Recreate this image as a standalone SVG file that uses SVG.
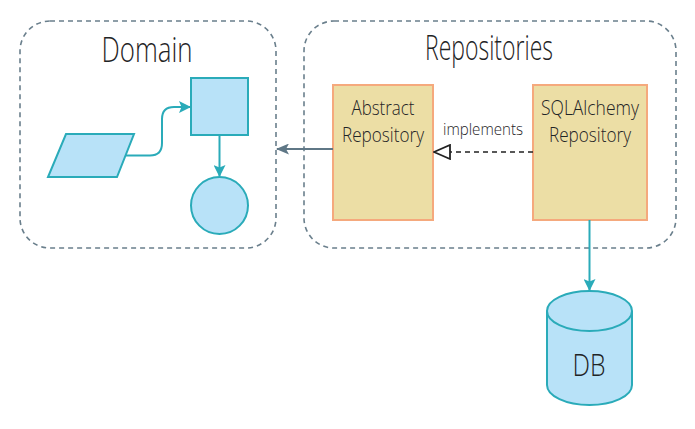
<svg xmlns="http://www.w3.org/2000/svg" width="695" height="429" viewBox="0 0 695 429">
<defs>
<style>
.cont{fill:none;stroke:#6a7f8c;stroke-width:1.6;stroke-dasharray:5,4}
.blue{fill:#b8e2f8;stroke:#2aabb9;stroke-width:2}
.tan{fill:#ecdea5;stroke:#f5a97d;stroke-width:2}
.t{font-family:"Open Sans","Liberation Sans",sans-serif;font-weight:300;fill:#1f2426;text-anchor:middle}
.teal{fill:none;stroke:#2aabb9;stroke-width:2}
</style>
<marker id="ah" markerWidth="12" markerHeight="12" refX="11" refY="6" orient="auto" markerUnits="userSpaceOnUse" viewBox="0 0 12 12">
<path d="M0,0 L12,6 L0,12 L2.5,6 Z" fill="#2aabb9"/>
</marker>
<marker id="ag" markerWidth="13" markerHeight="11" refX="12" refY="5.5" orient="auto" markerUnits="userSpaceOnUse" viewBox="0 0 13 11">
<path d="M0,0 L13,5.5 L0,11 L3,5.5 Z" fill="#5f7786"/>
</marker>
<marker id="tri" markerWidth="18" markerHeight="16" refX="17" refY="8" orient="auto" markerUnits="userSpaceOnUse" viewBox="0 0 18 16">
<path d="M1,1 L17,8 L1,15 Z" fill="#fff" stroke="#222" stroke-width="1.8"/>
</marker>
</defs>
<rect width="695" height="429" fill="#fff"/>
<g id="domain">
<rect class="cont" x="20" y="21" width="256" height="227" rx="30"/>
<text class="t" x="147" y="62" font-size="34" textLength="91" lengthAdjust="spacingAndGlyphs">Domain</text>
</g>
<g id="repositories">
<rect class="cont" x="304" y="21" width="372" height="227" rx="30"/>
<text class="t" x="489" y="60" font-size="34" textLength="128" lengthAdjust="spacingAndGlyphs">Repositories</text>
</g>
<g id="parallelogram">
<polygon class="blue" points="66,134 134,134 117,177 48,177"/>
</g>
<g id="square">
<rect class="blue" x="191" y="78" width="57" height="57"/>
</g>
<g id="circle">
<circle class="blue" cx="219.5" cy="205.5" r="28.5"/>
</g>
<g id="abstract-repository">
<rect class="tan" x="333" y="85" width="100" height="135"/>
<text class="t" font-size="21" x="383" y="115" textLength="63" lengthAdjust="spacingAndGlyphs">Abstract</text>
<text class="t" font-size="21" x="383" y="142" textLength="82" lengthAdjust="spacingAndGlyphs">Repository</text>
</g>
<g id="sqlalchemy-repository">
<rect class="tan" x="533" y="85" width="114" height="135"/>
<text class="t" font-size="21" x="590" y="115" textLength="98" lengthAdjust="spacingAndGlyphs">SQLAlchemy</text>
<text class="t" font-size="21" x="590" y="142" textLength="82" lengthAdjust="spacingAndGlyphs">Repository</text>
</g>
<g id="db">
<path class="blue" d="M547,311 L547,385 A42.5,20 0 0 0 632,385 L632,311"/>
<ellipse class="blue" cx="589.5" cy="311" rx="42.5" ry="20"/>
<text class="t" font-size="31" x="589" y="376" textLength="33" lengthAdjust="spacingAndGlyphs">DB</text>
</g>
<g id="connectors">
<path class="teal" d="M126,155.5 L150,155.5 Q162,155.5 162,143 L162,119 Q162,107 174,107 L190,107" marker-end="url(#ah)"/>
<line class="teal" x1="219.5" y1="135" x2="219.5" y2="176" marker-end="url(#ah)"/>
<line x1="333" y1="149" x2="277" y2="149" stroke="#5f7786" stroke-width="2" marker-end="url(#ag)"/>
<line x1="533" y1="152" x2="434" y2="152" stroke="#222" stroke-width="1.6" stroke-dasharray="5,4" marker-end="url(#tri)"/>
<text class="t" font-size="17" x="483" y="135" textLength="80" lengthAdjust="spacingAndGlyphs">implements</text>
<line class="teal" x1="589.5" y1="220" x2="589.5" y2="290" marker-end="url(#ah)"/>
</g>
</svg>
